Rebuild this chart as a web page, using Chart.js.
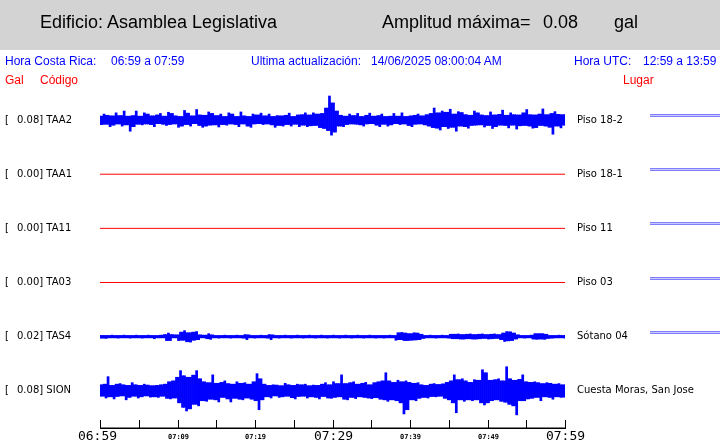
<!DOCTYPE html>
<html>
<head>
<meta charset="utf-8">
<script src="https://cdn.jsdelivr.net/npm/chart.js@4.4.1/dist/chart.umd.min.js"></script>
<style>
body { margin: 0; background: #fff; }
#wrap { position: relative; width: 720px; height: 443px; overflow: hidden; }
#band { position: absolute; left: 0; top: 0; width: 720px; height: 50px; background: #d3d3d3; }
canvas { position: absolute; left: 0; top: 0; }
.t { position: absolute; white-space: pre; font-family: "Liberation Sans", Arial, sans-serif; line-height: 1; }
.h { font-size: 18px; color: #000; top: 13px; }
.b { font-size: 12px; color: #0000ff; top: 55px; }
.r { font-size: 12px; color: #ff0000; top: 74px; }
</style>
</head>
<body>
<div id="wrap">
  <div id="band"></div>
  <canvas id="sismo" width="720" height="443"></canvas>
  <div class="t h" style="left:40px">Edificio: Asamblea Legislativa</div>
  <div class="t h" style="left:382px">Amplitud máxima=</div>
  <div class="t h" id="amax" style="left:543px">0.08</div>
  <div class="t h" style="left:614px">gal</div>
  <div class="t b" style="left:5px">Hora Costa Rica:</div>
  <div class="t b" style="left:111px">06:59 a 07:59</div>
  <div class="t b" style="left:251px">Ultima actualización:</div>
  <div class="t b" style="left:371px">14/06/2025 08:00:04 AM</div>
  <div class="t b" style="left:574px">Hora UTC:</div>
  <div class="t b" style="left:643px">12:59 a 13:59</div>
  <div class="t r" style="left:5px">Gal</div>
  <div class="t r" style="left:40px">Código</div>
  <div class="t r" style="left:623px">Lugar</div>
</div>
<script>
// estaciones (de arriba hacia abajo)
const codes = ['TAA2', 'TAA1', 'TA11', 'TA03', 'TAS4', 'SION'];
const places = ['Piso 18-2', 'Piso 18-1', 'Piso 11', 'Piso 03', 'Sótano 04', 'Cuesta Moras, San Jose'];
const tickLabels = ['06:59', '', '07:09', '', '07:19', '', '07:29', '', '07:39', '', '07:49', '', '07:59'];

// picos de cada traza en mgal, 06:59 -> 07:59
const taa2 = [
  13,-15,20,-14,16,-22,14,-17,24,-13, 15,-20,30,-16,13,-37,15,-22,30,-14,
  13,-16,24,-13,20,-15,14,-22,17,-12, 22,-14,13,-18,26,-15,22,-13,14,-24,
  12,-20,32,-15,23,-20,14,-12,35,-18, 17,-24,16,-20,27,-17,22,-16,15,-23,
  20,-15,12,-17,24,-13,20,-15,12,-22, 27,-13,14,-20,12,-24,20,-13,17,-12,
  23,-15,14,-13,20,-16,12,-24,15,-18, 14,-20,16,-15,23,-20,12,-14,17,-22,
  18,-17,24,-22,17,-19,24,-18,20,-25, 22,-28,40,-35,80,-50,57,-40,30,-20,
  16,-22,13,-15,20,-13,15,-14,22,-16, 12,-20,16,-13,23,-12,13,-17,15,-22,
  20,-14,12,-20,13,-16,22,-12,13,-15, 24,-13,12,-18,14,-22,16,-14,20,-13,
  14,-16,18,-20,22,-25,40,-27,24,-33, 30,-22,26,-28,36,-24,20,-37,28,-20,
  25,-22,18,-27,16,-18,30,-17,24,-16, 17,-23,15,-18,27,-28,17,-22,19,-17,
  33,-18,16,-26,24,-17,18,-30,17,-19, 24,-18,35,-20,18,-27,17,-25,20,-18,
  37,-20,18,-24,22,-47,28,-20,19,-26, 18,-17
];
const taa1 = [0, 0];
const ta11 = [0, 0];
const ta03 = [0, 0];
const tas4 = [
  4,-5,4,-6,4,-4,5,-4,4,-5, 4,-4,5,-4,4,-5,4,-4,5,-4,
  4,-5,4,-4,5,-4,4,-7,4,-4, 5,-4,7,-13,12,-13,7,-4,6,-13,
  15,-12,20,-17,13,-18,15,-12,17,-10, 6,-4,5,-7,10,-9,6,-4,4,-5,
  4,-4,5,-4,4,-5,4,-4,5,-4, 4,-5,7,-10,6,-4,4,-5,4,-4,
  5,-4,4,-5,7,-10,6,-4,4,-5, 4,-4,5,-4,4,-5,4,-4,5,-4,
  4,-5,4,-4,5,-4,4,-5,4,-4, 5,-4,4,-5,4,-4,5,-4,4,-5,
  4,-4,5,-4,4,-5,4,-4,5,-4, 4,-5,4,-4,5,-4,4,-5,4,-4,
  4,-5,4,-4,5,-4,4,-12,13,-10, 14,-13,12,-13,10,-12,13,-11,12,-10,
  8,-6,4,-4,5,-4,4,-5,4,-4, 5,-4,4,-5,8,-7,8,-7,9,-8,
  7,-8,8,-7,9,-8,7,-8,8,-7, 9,-6,7,-8,8,-7,9,-6,7,-10,
  12,-16,17,-14,16,-13,12,-8,6,-4, 4,-5,4,-4,5,-8,10,-9,10,-8,
  10,-9,8,-6,4,-5,4,-4,5,-4, 4,-5
];
const sion = [
  20,-18,22,-24,47,-20,18,-27,22,-19, 24,-17,20,-30,18,-22,27,-18,20,-24,
  18,-20,22,-17,19,-21,17,-20,18,-22, 20,-18,22,-25,30,-27,33,-24,45,-40,
  67,-55,50,-67,45,-60,52,-45,67,-50, 40,-33,30,-35,27,-28,53,-30,25,-37,
  28,-22,33,-27,24,-37,22,-25,30,-28, 25,-30,27,-24,22,-28,30,-33,57,-63,
  40,-30,22,-20,18,-24,20,-17,19,-22, 17,-20,25,-18,20,-23,18,-27,22,-19,
  20,-18,22,-24,17,-20,19,-22,18,-27, 22,-19,27,-24,20,-25,30,-22,24,-20,
  53,-28,24,-30,27,-22,30,-26,22,-20, 25,-22,28,-24,20,-26,27,-23,30,-28,
  33,-30,60,-35,33,-30,28,-33,35,-40, 30,-77,33,-63,28,-30,25,-33,27,-25,
  20,-22,18,-24,22,-19,24,-20,21,-18, 23,-25,28,-30,33,-40,53,-73,37,-30,
  40,-35,33,-30,28,-33,37,-30,35,-40, 70,-47,60,-40,35,-33,37,-30,40,-35,
  33,-38,80,-45,40,-50,35,-80,38,-33, 53,-33,30,-27,28,-25,30,-22,27,-33,
  24,-20,27,-22,25,-28,22,-20,24,-22, 20,-21
];
const traces = [taa2, taa1, ta11, ta03, tas4, sion];

const MINUTES = 60;
const LANE = 180; // mgal entre trazas

function laneBase(k) { return (codes.length - 1 - k) * LANE; }
function peak(arr) { return Math.max(...arr.map(Math.abs)); }

// una barra por muestra: desde su pico hasta el vecino menos profundo del otro lado
const datasets = traces.map((arr, k) => {
  const base = laneBase(k);
  const n = arr.length - 1;
  if (peak(arr) === 0) {
    return {
      type: 'line', label: codes[k],
      data: arr.map((v, i) => ({ x: i * MINUTES / n, y: base + v })),
      borderColor: '#ff0000', borderWidth: 1, pointRadius: 0
    };
  }
  return {
    type: 'bar', label: codes[k],
    data: arr.map((v, i) => {
      const nb = [arr[i - 1], arr[i + 1]].filter(u => u !== undefined);
      const inner = v >= 0 ? Math.max(...nb) : Math.min(...nb);
      return { x: i * MINUTES / n, y: [base + v, base + inner] };
    }),
    backgroundColor: '#0000ff', borderWidth: 0, barThickness: 2.05, grouped: false
  };
});

document.getElementById('amax').textContent = (Math.max(...traces.map(peak)) / 1000).toFixed(2);

const decor = {
  id: 'decor',
  afterDraw(chart) {
    const c = chart.ctx, a = chart.chartArea;
    const xs = chart.scales.x, ys = chart.scales.y;
    c.save();
    // eje de tiempo
    c.strokeStyle = '#000';
    c.lineWidth = 1.5;
    c.beginPath();
    c.moveTo(a.left, a.bottom - 0.75);
    c.lineTo(a.right + 1, a.bottom - 0.75);
    c.stroke();
    c.lineWidth = 1;
    c.fillStyle = '#000';
    c.textAlign = 'center';
    c.textBaseline = 'middle';
    tickLabels.forEach((lab, i) => {
      const px = Math.round(xs.getPixelForValue(i * 5)) + 0.5;
      c.beginPath();
      c.moveTo(px, a.bottom - 9);
      c.lineTo(px, a.bottom);
      c.stroke();
      if (!lab) return;
      const big = i % 6 === 0;
      c.font = big ? '13px "DejaVu Sans Mono"' : 'bold 7px "DejaVu Sans Mono"';
      c.fillText(lab, px - (i === 0 ? 3 : 0), a.bottom + 8);
    });
    // etiquetas de cada traza
    c.font = '10px "DejaVu Sans"';
    c.textAlign = 'left';
    codes.forEach((code, k) => {
      const py = ys.getPixelForValue(laneBase(k));
      c.fillStyle = '#000';
      c.fillText('[', 5, py);
      c.fillText((peak(traces[k]) / 1000).toFixed(2) + '] ' + code, 17, py);
      c.fillText(places[k], a.right + 12, py);
      if (k < codes.length - 1) {
        const ly = Math.round(py);
        c.fillStyle = '#8080ff';
        c.fillRect(a.right + 85, ly - 6, 80, 1);
        c.fillRect(a.right + 85, ly - 4, 80, 1);
        c.fillStyle = '#c8c8ff';
        c.fillRect(a.right + 85, ly - 5, 80, 1);
      }
    });
    c.restore();
  }
};

new Chart(document.getElementById('sismo'), {
  type: 'bar',
  data: { datasets },
  options: {
    responsive: false,
    animation: false,
    devicePixelRatio: 1,
    layout: { padding: { left: 100, right: 155, top: 93, bottom: 14 } },
    plugins: { legend: { display: false }, tooltip: { enabled: false } },
    scales: {
      x: { type: 'linear', display: false, offset: false, min: 0, max: MINUTES },
      y: { type: 'linear', display: false, min: -127, max: 990 }
    }
  },
  plugins: [decor]
});
</script>
</body>
</html>
